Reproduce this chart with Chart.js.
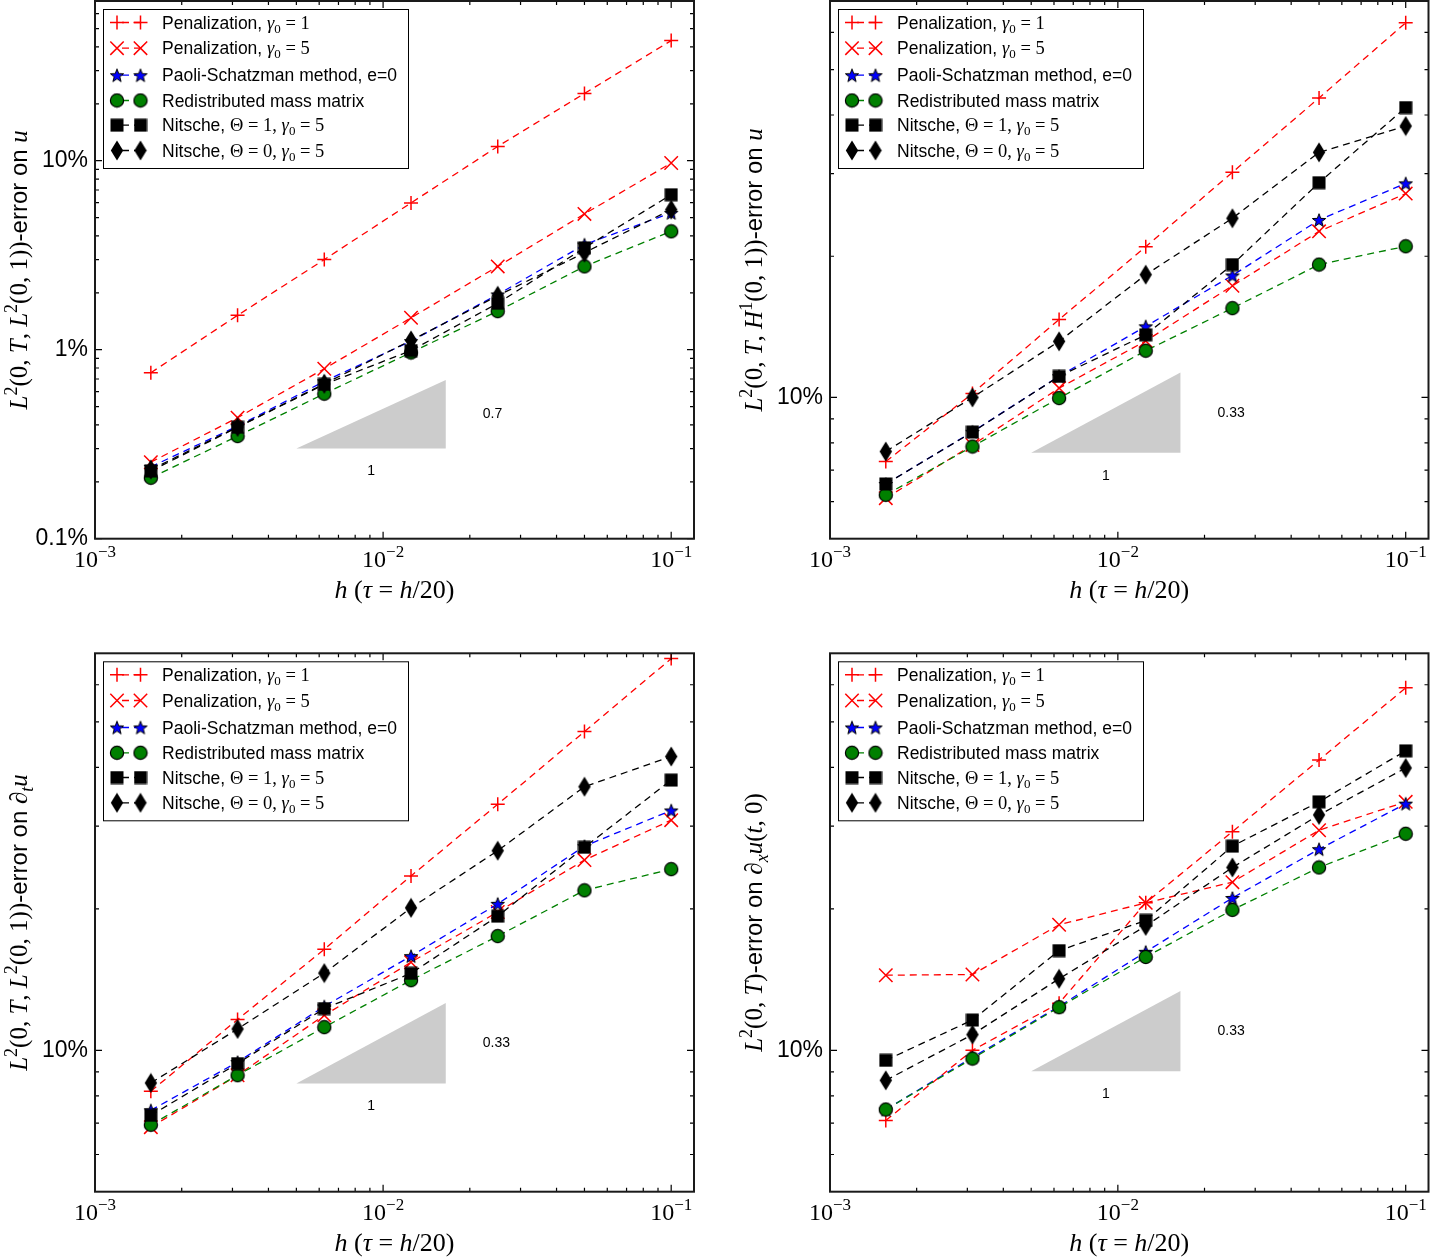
<!DOCTYPE html>
<html><head><meta charset="utf-8">
<script src="https://cdn.jsdelivr.net/npm/chart.js@4/dist/chart.umd.min.js"></script>
<style>
html,body{margin:0;padding:0;background:#fff;}
body{width:1431px;height:1257px;position:relative;overflow:hidden;}
canvas{position:absolute;}
</style></head><body>
<canvas id="cA" width="720" height="628" style="left:0px;top:0px"></canvas>
<canvas id="cB" width="696" height="628" style="left:735px;top:0px"></canvas>
<canvas id="cC" width="720" height="617" style="left:0px;top:640px"></canvas>
<canvas id="cD" width="696" height="617" style="left:735px;top:640px"></canvas>
<script>
// ---------------- DATA (errors in %) ----------------
const hValues = [1/640, 1/320, 1/160, 1/80, 1/40, 1/20, 1/10];

// Panel A: L2(0,T,L2(0,1))-error on u
const A_pen1    = [0.755, 1.52, 3.0, 5.98, 11.9, 22.7, 43.2];
const A_pen5    = [0.254, 0.437, 0.793, 1.475, 2.76, 5.23, 9.72];
const A_paoli   = [0.24, 0.394, 0.68, 1.11, 1.96, 3.6, 5.3];
const A_redist  = [0.21, 0.349, 0.585, 0.966, 1.60, 2.76, 4.23];
const A_nit1    = [0.228, 0.389, 0.655, 0.99, 1.76, 3.46, 6.61];
const A_nit0    = [0.232, 0.39, 0.66, 1.12, 1.93, 3.26, 5.51];

// Panel B: L2(0,T,H1(0,1))-error on u
const B_pen1    = [7.3, 10.2, 14.66, 20.96, 30.2, 43.5, 62.9];
const B_pen5    = [6.1, 7.92, 10.47, 13.2, 17.3, 22.6, 27.2];
const B_paoli   = [6.54, 8.45, 11.1, 14.18, 18.2, 23.9, 28.6];
const B_redist  = [6.2, 7.86, 9.97, 12.58, 15.5, 19.2, 21.0];
const B_nit1    = [6.54, 8.44, 11.09, 13.6, 19.2, 28.7, 41.5];
const B_nit0    = [7.67, 10.0, 13.17, 18.27, 24.1, 33.3, 37.9];

// Panel C: L2(0,T,L2(0,1))-error on d_t u
const C_pen1    = [8.18, 11.63, 16.4, 23.5, 33.4, 47.7, 68.2];
const C_pen5    = [6.86, 8.85, 11.87, 15.4, 19.7, 25.4, 30.9];
const C_paoli   = [7.45, 9.44, 12.4, 15.87, 20.5, 27.2, 32.4];
const C_redist  = [6.94, 8.85, 11.2, 14.1, 17.5, 21.9, 24.3];
const C_nit1    = [7.27, 9.37, 12.27, 14.58, 19.3, 27.05, 37.6];
const C_nit0    = [8.52, 11.1, 14.6, 20.1, 26.6, 36.4, 42.2];

// Panel D: L2(0,T)-error on d_x u(t,0)
const D_pen1    = [7.09, 10.0, 12.6, 20.6, 29.2, 41.5, 59.1];
const D_pen5    = [14.45, 14.5, 18.5, 20.6, 22.8, 29.4, 33.8];
const D_paoli   = [7.48, 9.66, 12.4, 16.2, 21.1, 26.8, 33.5];
const D_redist  = [7.48, 9.6, 12.35, 15.8, 19.9, 24.5, 28.9];
const D_nit1    = [9.52, 11.6, 16.3, 18.9, 27.2, 33.8, 43.4];
const D_nit0    = [8.63, 10.8, 14.2, 18.4, 24.5, 31.7, 39.9];

const seriesLabels = ['pen1','pen5','paoli','redist','nit1','nit0'];

// ticks
const xMajor = [1e-3, 1e-2, 1e-1];
const xMinor = [2e-3,3e-3,4e-3,5e-3,6e-3,7e-3,8e-3,9e-3,2e-2,3e-2,4e-2,5e-2,6e-2,7e-2,8e-2,9e-2];
const xTickExp = ['\u22123', '\u22122', '\u22121'];

const yMajorA = [0.1, 1, 10];
const yLabelsA = ['0.1%', '1%', '10%'];
const yMinorA = [0.2,0.3,0.4,0.5,0.6,0.7,0.8,0.9,2,3,4,5,6,7,8,9,20,30,40,50,60];
const yMajorB = [10];
const yLabelsB = ['10%'];
const yMinorB = [6,7,8,9,20,30,40,50,60];

// slope triangles
const slopeA = {x0: 0.005, x1: 0.0165, y0: 0.3,  rate: 0.7,  text: '0.7'};
const slopeB = {x0: 0.005, x1: 0.0165, y0: 7.62, rate: 0.33, text: '0.33'};
const slopeC = {x0: 0.005, x1: 0.0165, y0: 8.5,  rate: 0.33, text: '0.33'};
const slopeD = {x0: 0.005, x1: 0.0165, y0: 9.02, rate: 0.33, text: '0.33'};

// ---------------- STYLE ----------------
const SANS = '"Liberation Sans", Arial, Helvetica, sans-serif';
const SERIF = '"Liberation Serif", "Times New Roman", serif';

function mk(w, h, draw) {
  const c = document.createElement('canvas'); c.width = w; c.height = h;
  const g = c.getContext('2d'); draw(g, w / 2, h / 2); return c;
}
const starImg = mk(16, 16, (g, cx, cy) => {
  g.beginPath();
  for (let i = 0; i < 10; i++) {
    const r = i % 2 ? 2.9 : 7; const a = -Math.PI / 2 + i * Math.PI / 5;
    g.lineTo(cx + r * Math.cos(a), cy + 0.7 + r * Math.sin(a));
  }
  g.closePath(); g.fillStyle = '#0000ff'; g.fill(); g.lineWidth = 1; g.strokeStyle = '#000'; g.stroke();
});
const circleImg = mk(16, 16, (g, cx, cy) => {
  g.beginPath(); g.arc(cx, cy, 6.6, 0, Math.PI * 2); g.fillStyle = '#008000'; g.fill();
  g.lineWidth = 1.2; g.strokeStyle = '#000'; g.stroke();
});
const squareImg = mk(14, 14, (g) => { g.fillStyle = '#000'; g.fillRect(0.5, 0.5, 13, 13); });
const diamondImg = mk(14, 21, (g) => {
  g.beginPath(); g.moveTo(7, 0.5); g.lineTo(13.2, 10.5); g.lineTo(7, 20.5); g.lineTo(0.8, 10.5); g.closePath();
  g.fillStyle = '#000'; g.fill();
});

const styles = [
  {color: '#ff0000', pointStyle: 'cross', radius: 7, pbw: 1.5},
  {color: '#ff0000', pointStyle: 'crossRot', radius: 9.5, pbw: 1.5},
  {color: '#0000ff', pointStyle: starImg, radius: 7, pbw: 1},
  {color: '#008000', pointStyle: circleImg, radius: 7, pbw: 1},
  {color: '#000000', pointStyle: squareImg, radius: 7, pbw: 1},
  {color: '#000000', pointStyle: diamondImg, radius: 7, pbw: 1},
];

function it(t, s) { return {t, f: `italic ${s}px ${SERIF}`}; }
function rm(t, s) { return {t, f: `${s}px ${SERIF}`}; }
function sans(t, s) { return {t, f: `${s}px ${SANS}`}; }
function sup(t, s) { return {t, f: `${Math.round(s * 0.7)}px ${SERIF}`, dy: -s * 0.42}; }
function sub(t, s) { return {t, f: `${Math.round(s * 0.7)}px ${SERIF}`, dy: s * 0.22}; }
function subit(t, s) { return {t, f: `italic ${Math.round(s * 0.7)}px ${SERIF}`, dy: s * 0.22}; }

function drawRich(ctx, segs, x, y, align) {
  let w = 0;
  for (const s of segs) { ctx.font = s.f; s.w = ctx.measureText(s.t).width; w += s.w; }
  let cx = align === 'center' ? x - w / 2 : x;
  ctx.textAlign = 'left'; ctx.textBaseline = 'alphabetic';
  for (const s of segs) { ctx.font = s.f; ctx.fillText(s.t, cx, y + (s.dy || 0)); cx += s.w; }
}

const TS = 25, TSS = 24;
const titleA = [it('L',TS), sup('2',TS), rm('(0, ',TS), it('T',TS), rm(', ',TS), it('L',TS), sup('2',TS), rm('(0, 1))',TS), sans('-error on ',TSS), it('u',TS)];
const titleB = [it('L',TS), sup('2',TS), rm('(0, ',TS), it('T',TS), rm(', ',TS), it('H',TS), sup('1',TS), rm('(0, 1))',TS), sans('-error on ',TSS), it('u',TS)];
const titleC = [it('L',TS), sup('2',TS), rm('(0, ',TS), it('T',TS), rm(', ',TS), it('L',TS), sup('2',TS), rm('(0, 1))',TS), sans('-error on ',TSS), rm('\u2202',TS), subit('t',TS), it('u',TS)];
const titleD = [it('L',TS), sup('2',TS), rm('(0, ',TS), it('T',TS), rm(')',TS), sans('-error on ',TSS), rm('\u2202',TS), subit('x',TS), it('u',TS), rm('(',TS), it('t',TS), rm(', 0)',TS)];
const xTitle = () => [it('h',26), rm(' (',26), it('\u03C4',26), rm(' = ',26), it('h',26), rm('/20)',26)];

const LS = 17.5, LM = 18.5;
const legendEntries = () => [
  [sans('Penalization, ',LS), it('\u03B3',LM), sub('0',LM), rm(' = 1',LM)],
  [sans('Penalization, ',LS), it('\u03B3',LM), sub('0',LM), rm(' = 5',LM)],
  [sans('Paoli-Schatzman method, e=0',LS)],
  [sans('Redistributed mass matrix',LS)],
  [sans('Nitsche, ',LS), rm('\u0398 = 1, ',LM), it('\u03B3',LM), sub('0',LM), rm(' = 5',LM)],
  [sans('Nitsche, ',LS), rm('\u0398 = 0, ',LM), it('\u03B3',LM), sub('0',LM), rm(' = 5',LM)],
];
const legendOffsets = [13, 38.7, 65.7, 91, 115.7, 141];

function drawMarker(ctx, st, x, y) {
  if (typeof st.pointStyle === 'string') {
    ctx.save(); ctx.strokeStyle = st.color; ctx.lineWidth = st.pbw; ctx.beginPath();
    if (st.pointStyle === 'cross') {
      ctx.moveTo(x - 7, y); ctx.lineTo(x + 7, y); ctx.moveTo(x, y - 7); ctx.lineTo(x, y + 7);
    } else {
      const d = 6.7; ctx.moveTo(x - d, y - d); ctx.lineTo(x + d, y + d); ctx.moveTo(x - d, y + d); ctx.lineTo(x + d, y - d);
    }
    ctx.stroke(); ctx.restore();
  } else {
    const im = st.pointStyle; ctx.drawImage(im, x - im.width / 2, y - im.height / 2);
  }
}

function makePanel(id, P) {
  const canvas = document.getElementById(id);
  const datasets = P.series.map((arr, i) => ({
    label: seriesLabels[i],
    data: hValues.map((h, k) => ({x: h, y: arr[k]})),
    showLine: true, fill: false, tension: 0,
    borderColor: styles[i].color, borderWidth: 1.3, borderDash: [7, 5],
    pointStyle: styles[i].pointStyle, pointRadius: styles[i].radius,
    pointBorderColor: styles[i].color, pointBackgroundColor: styles[i].color,
    pointBorderWidth: styles[i].pbw, pointHoverRadius: styles[i].radius,
    order: 5 - i,
  }));

  const decor = {
    id: 'decor' + id,
    beforeDatasetsDraw(chart) {
      const {ctx, scales: {x, y}} = chart; const t = P.slope;
      const x0 = x.getPixelForValue(t.x0), x1 = x.getPixelForValue(t.x1);
      const y0 = y.getPixelForValue(t.y0);
      const y1 = y.getPixelForValue(t.y0 * Math.pow(t.x1 / t.x0, t.rate));
      ctx.save(); ctx.fillStyle = '#cccccc'; ctx.beginPath();
      ctx.moveTo(x0, y0); ctx.lineTo(x1, y0); ctx.lineTo(x1, y1); ctx.closePath(); ctx.fill();
      ctx.fillStyle = '#000'; ctx.font = `14px ${SANS}`; ctx.textBaseline = 'middle';
      ctx.textAlign = 'center'; ctx.fillText('1', (x0 + x1) / 2, y0 + 23);
      ctx.textAlign = 'left'; ctx.fillText(t.text, x1 + 37, (y0 + y1) / 2);
      ctx.restore();
    },
    afterDatasetsDraw(chart) {
      const {ctx, chartArea: a, scales: {x, y}} = chart;
      ctx.save();
      // inward ticks
      ctx.strokeStyle = '#000'; ctx.lineWidth = 1.2; ctx.beginPath();
      const xt = xMajor.map(v => [v, 7]).concat(xMinor.map(v => [v, 4]));
      for (const [v, len] of xt) {
        const px = x.getPixelForValue(v);
        if (px < a.left - 0.5 || px > a.right + 0.5) continue;
        ctx.moveTo(px, a.bottom); ctx.lineTo(px, a.bottom - len);
        ctx.moveTo(px, a.top); ctx.lineTo(px, a.top + len);
      }
      const yt = P.yMajor.map(v => [v, 7]).concat(P.yMinor.map(v => [v, 4]));
      for (const [v, len] of yt) {
        const py = y.getPixelForValue(v);
        if (py < a.top - 0.5 || py > a.bottom + 0.5) continue;
        ctx.moveTo(a.left, py); ctx.lineTo(a.left + len, py);
        ctx.moveTo(a.right, py); ctx.lineTo(a.right - len, py);
      }
      ctx.stroke();
      // frame
      ctx.lineWidth = 2; ctx.strokeStyle = '#1a1a1a';
      ctx.strokeRect(a.left, a.top, a.right - a.left, a.bottom - a.top);
      // legend
      const bx = a.left + 8.5, by = a.top + 8.5;
      ctx.fillStyle = '#fff'; ctx.fillRect(bx, by, 305, 159);
      ctx.lineWidth = 1; ctx.strokeStyle = '#000'; ctx.strokeRect(bx, by, 305, 159);
      const entries = legendEntries();
      entries.forEach((segs, i) => {
        const cy = by + legendOffsets[i];
        const m1 = bx + 13.5, m2 = bx + 37;
        ctx.save(); ctx.strokeStyle = styles[i].color; ctx.lineWidth = 1.3; ctx.setLineDash([7, 5]);
        ctx.lineDashOffset = -5;
        ctx.beginPath(); ctx.moveTo(m1, cy); ctx.lineTo(m2, cy); ctx.stroke(); ctx.restore();
        drawMarker(ctx, styles[i], m1, cy); drawMarker(ctx, styles[i], m2, cy);
        ctx.fillStyle = '#000'; drawRich(ctx, segs, bx + 58.5, cy + 6, 'left');
      });
      ctx.restore();
    },
    afterDraw(chart) {
      const {ctx, chartArea: a, scales: {x, y}} = chart;
      ctx.save(); ctx.fillStyle = '#000';
      // y tick labels (from the y scale)
      ctx.font = `23px ${SANS}`; ctx.textAlign = 'right'; ctx.textBaseline = 'middle';
      P.yMajor.forEach((v, i) => {
        ctx.fillText(P.yLabels[i], a.left - 7, y.getPixelForValue(v));
      });
      // x tick labels
      xMajor.forEach((v, i) => {
        const px = x.getPixelForValue(v);
        const segs = [rm('10', 24), {t: xTickExp[i], f: `17px ${SERIF}`, dy: -10}];
        drawRich(ctx, segs, px, a.bottom + 28, 'center');
      });
      drawRich(ctx, xTitle(), (a.left + a.right) / 2, a.bottom + 59, 'center');
      ctx.translate(27, (a.top + a.bottom) / 2); ctx.rotate(-Math.PI / 2);
      drawRich(ctx, P.title, 0, 0, 'center');
      ctx.restore();
    }
  };

  return new Chart(canvas, {
    type: 'scatter',
    data: {datasets},
    options: {
      responsive: false, animation: false, devicePixelRatio: 1, events: [],
      layout: {autoPadding: false, padding: {left: 0, top: P.area.t, right: canvas.width - P.area.r, bottom: 0}},
      plugins: {legend: {display: false}, tooltip: {enabled: false}},
      scales: {
        x: {
          type: 'logarithmic', min: 0.001, max: 0.12,
          grid: {display: false, drawTicks: false}, border: {display: false},
          ticks: {display: false},
          afterBuildTicks: (s) => { s.ticks = xMajor.map(v => ({value: v})); },
          afterFit: (s) => { s.height = canvas.height - P.area.b; s.paddingLeft = 0; s.paddingRight = 0; s.paddingTop = 0; s.paddingBottom = 0; }
        },
        y: {
          type: 'logarithmic', min: P.yMin, max: 70,
          grid: {display: false, drawTicks: false}, border: {display: false},
          ticks: {display: false},
          afterBuildTicks: (s) => {
            s.ticks = P.yMajor.concat(P.yMinor).sort((p, q) => p - q).map(v => ({value: v}));
          },
          afterFit: (s) => { s.width = P.area.l; s.paddingTop = 0; s.paddingBottom = 0; s.paddingLeft = 0; s.paddingRight = 0; }
        }
      }
    },
    plugins: [decor]
  });
}

makePanel('cA', {
  area: {l: 95, t: 1, r: 694, b: 538.7}, yMin: 0.1,
  yMajor: yMajorA, yLabels: yLabelsA, yMinor: yMinorA,
  series: [A_pen1, A_pen5, A_paoli, A_redist, A_nit1, A_nit0], slope: slopeA, title: titleA
});
makePanel('cB', {
  area: {l: 95, t: 1, r: 693.5, b: 538.7}, yMin: 5,
  yMajor: yMajorB, yLabels: yLabelsB, yMinor: yMinorB,
  series: [B_pen1, B_pen5, B_paoli, B_redist, B_nit1, B_nit0], slope: slopeB, title: titleB
});
makePanel('cC', {
  area: {l: 95, t: 13.3, r: 694, b: 551.7}, yMin: 5,
  yMajor: yMajorB, yLabels: yLabelsB, yMinor: yMinorB,
  series: [C_pen1, C_pen5, C_paoli, C_redist, C_nit1, C_nit0], slope: slopeC, title: titleC
});
makePanel('cD', {
  area: {l: 95, t: 13.3, r: 693.5, b: 551.7}, yMin: 5,
  yMajor: yMajorB, yLabels: yLabelsB, yMinor: yMinorB,
  series: [D_pen1, D_pen5, D_paoli, D_redist, D_nit1, D_nit0], slope: slopeD, title: titleD
});
</script>
</body></html>
